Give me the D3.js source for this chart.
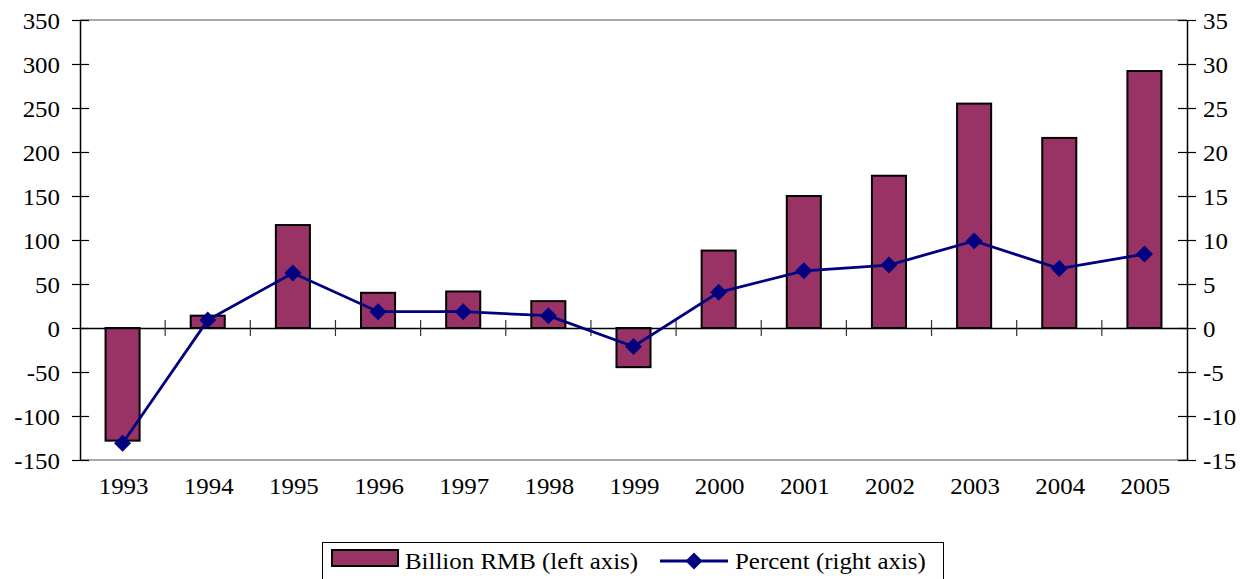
<!DOCTYPE html>
<html><head><meta charset="utf-8">
<script src="https://cdn.jsdelivr.net/npm/d3@7"></script>
<style>
html,body{margin:0;padding:0;background:#fff;}
text{font-family:"Liberation Serif","Times New Roman",serif;fill:#000;}
</style></head>
<body><svg id="chart" width="1247" height="579"></svg>
<script>
const years = ["1993","1994","1995","1996","1997","1998","1999","2000","2001","2002","2003","2004","2005"];
const billionRMB = [-128, 14, 117, 40, 41.5, 30.5, -44.5, 88, 150, 173, 255, 216, 292];
const percent = [-13.1, 0.9, 6.25, 1.85, 1.85, 1.4, -2.1, 4.05, 6.5, 7.15, 9.9, 6.75, 8.4];
const leftTicks = [-150,-100,-50,0,50,100,150,200,250,300,350];
const rightTicks = [-15,-10,-5,0,5,10,15,20,25,30,35];
const legendLabels = ["Billion RMB (left axis)", "Percent (right axis)"];

const svg = d3.select("#chart");
const L = 80, R = 1187, T = 20, B = 460;
const FS = 23.5, SX = 1.06;
const barColor = "#993366", lineColor = "#000080";

const x = d3.scaleBand().domain(years).range([L, R]).padding(0);
const yL = d3.scaleLinear().domain([-150, 350]).range([B, T]);
const yR = d3.scaleLinear().domain([-15, 35]).range([B, T]);

svg.append("line").attr("x1", L).attr("x2", R).attr("y1", T).attr("y2", T).attr("stroke", "#8c8c8c").attr("stroke-width", 1.5);
svg.append("line").attr("x1", L).attr("x2", R).attr("y1", B).attr("y2", B).attr("stroke", "#8c8c8c").attr("stroke-width", 1.5);

const bw = x.bandwidth() * 0.4;
svg.append("g").selectAll("rect").data(billionRMB).join("rect")
  .attr("x", (d, i) => x(years[i]) + x.bandwidth() / 2 - bw / 2)
  .attr("y", d => Math.min(yL(d), yL(0)))
  .attr("width", bw)
  .attr("height", d => Math.abs(yL(d) - yL(0)))
  .attr("fill", barColor).attr("stroke", "#000").attr("stroke-width", 2);

const gx = svg.append("g").attr("transform", `translate(0,${yL(0)})`)
  .call(d3.axisBottom(x).tickValues([]).tickSizeOuter(0));
gx.select(".domain").attr("stroke", "#000").attr("stroke-width", 1.5);
const boundaries = d3.range(1, years.length).map(i => x(years[i]));
gx.selectAll("line.cat").data(boundaries).join("line").attr("class", "cat")
  .attr("x1", d => d).attr("x2", d => d).attr("y1", -8).attr("y2", 8)
  .attr("stroke", "#333").attr("stroke-width", 1.2);

svg.append("g").selectAll("text").data(years).join("text")
  .attr("transform", d => `translate(${x(d) + x.bandwidth() / 2 + 1},494) scale(${SX},1)`)
  .attr("text-anchor", "middle").attr("font-size", FS).text(d => d);

const gl = svg.append("g").attr("transform", `translate(${L},0)`)
  .call(d3.axisLeft(yL).tickValues(leftTicks).tickSize(8).tickSizeOuter(0).tickFormat(""));
gl.select(".domain").attr("stroke", "#000").attr("stroke-width", 1.5);
gl.selectAll(".tick line").attr("x1", 9).attr("x2", -8).attr("stroke", "#000").attr("stroke-width", 1.2);
gl.selectAll(".tick").append("text")
  .attr("transform", `translate(-20,8) scale(${SX},1)`)
  .attr("text-anchor", "end").attr("font-size", FS).attr("fill", "#000")
  .text(d => d);

const gr = svg.append("g").attr("transform", `translate(${R},0)`)
  .call(d3.axisRight(yR).tickValues(rightTicks).tickSize(8).tickSizeOuter(0).tickFormat(""));
gr.select(".domain").attr("stroke", "#000").attr("stroke-width", 1.5);
gr.selectAll(".tick line").attr("x1", -9).attr("x2", 9).attr("stroke", "#000").attr("stroke-width", 1.2);
gr.selectAll(".tick").append("text")
  .attr("transform", `translate(16,8) scale(${SX},1)`)
  .attr("text-anchor", "start").attr("font-size", FS).attr("fill", "#000")
  .text(d => d);

const line = d3.line().x((d, i) => x(years[i]) + x.bandwidth() / 2).y(d => yR(d));
svg.append("path").datum(percent).attr("d", line)
  .attr("fill", "none").attr("stroke", lineColor).attr("stroke-width", 2.8);
const diamond = d3.symbol().type(d3.symbolSquare).size(144);
svg.append("g").selectAll("path").data(percent).join("path")
  .attr("d", diamond)
  .attr("transform", (d, i) => `translate(${x(years[i]) + x.bandwidth() / 2},${yR(d)}) rotate(45)`)
  .attr("fill", lineColor);

const lg = svg.append("g");
lg.append("rect").attr("x", 322.5).attr("y", 542.5).attr("width", 621).attr("height", 40)
  .attr("fill", "#fff").attr("stroke", "#000").attr("stroke-width", 1);
lg.append("rect").attr("x", 332).attr("y", 550).attr("width", 66).attr("height", 16)
  .attr("fill", barColor).attr("stroke", "#000").attr("stroke-width", 2);
lg.append("text").attr("transform", `translate(405,569) scale(${SX},1)`).attr("font-size", FS).text(legendLabels[0]);
lg.append("line").attr("x1", 660).attr("x2", 728).attr("y1", 561).attr("y2", 561)
  .attr("stroke", lineColor).attr("stroke-width", 2.8);
lg.append("path").attr("d", diamond).attr("transform", "translate(694,561) rotate(45)").attr("fill", lineColor);
lg.append("text").attr("transform", `translate(735,569) scale(${SX},1)`).attr("font-size", FS).text(legendLabels[1]);
</script>
</body></html>
